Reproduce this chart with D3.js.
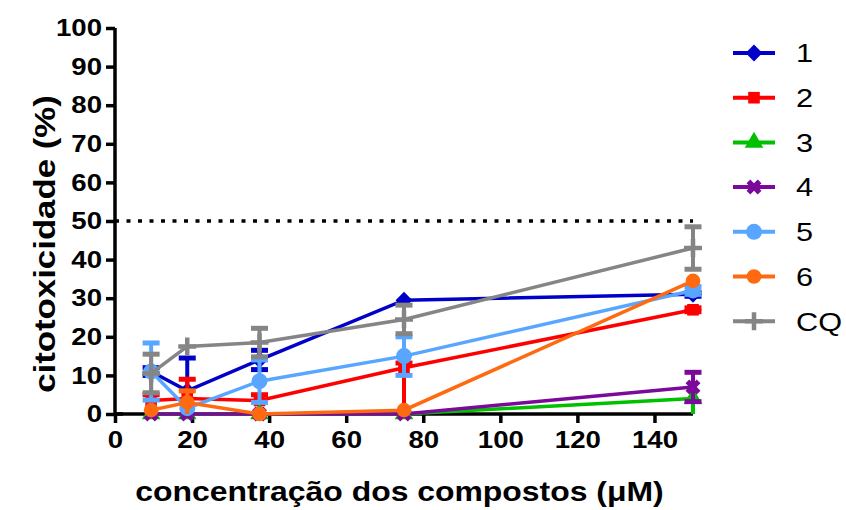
<!DOCTYPE html>
<html>
<head>
<meta charset="utf-8">
<script src="https://cdn.jsdelivr.net/npm/d3@7"></script>
<style>
body{margin:0;background:#fff;}
svg text{font-family:Arial,"Liberation Sans",Helvetica,sans-serif;}
</style>
</head>
<body>
<svg id="myGraph" width="846" height="510"></svg>
<script>
window.addEventListener("load",function(){
var doses = [9.375, 18.75, 37.5, 75, 150];   // concentrações (µM)
var names = ["1","2","3","4","5","6","CQ"];
var colors = ["#0000C8","#FF0000","#00C000","#7B0A9B","#58A6FF","#FF6A10","#858585"];
// valores (%) e barras de erro (acima / abaixo)
var s1 = [11, 6, 14, 29.5, 31],     s1Hi = [1, 8.5, 2.5, 0, 0.5],  s1Lo = [1, 0, 2.5, 0, 0.5];
var s2 = [3.5, 4, 3.5, 12, 27],     s2Hi = [1.5, 5, 1.5, 1.2, 0.5], s2Lo = [3.5, 4, 3.5, 12, 0.5];
var s3 = [0, 0, 0, 0, 4],           s3Hi = [0, 0, 0, 0, 0],        s3Lo = [0, 0, 0, 0, 4];
var s4 = [0, 0, 0, 0, 7],           s4Hi = [0, 0, 0, 0, 3.8],      s4Lo = [0, 0, 0, 0, 3.8];
var s5 = [11, 1.5, 8.5, 15, 32],    s5Hi = [7.4, 0, 5.5, 5, 1],    s5Lo = [7.4, 1.5, 5.5, 5, 1];
var s6 = [1, 3, 0, 1, 34.5],        s6Hi = [0, 3, 0, 0, 0],        s6Lo = [0, 3, 0, 0, 0];
var cq = [10.5, 17.5, 18.5, 24.5, 43], cqHi = [5, 0, 3.7, 3.7, 5.5], cqLo = [5, 0, 3.7, 3.7, 5.5];
var xTicks = [0,20,40,60,80,100,120,140];
var yTicks = [0,10,20,30,40,50,60,70,80,90,100];
var threshold = 50;

var series = [[s1,s1Hi,s1Lo],[s2,s2Hi,s2Lo],[s3,s3Hi,s3Lo],[s4,s4Hi,s4Lo],[s5,s5Hi,s5Lo],[s6,s6Hi,s6Lo],[cq,cqHi,cqLo]];

var svg = d3.select("#myGraph");
var xScale = d3.scaleLinear().domain([0,150]).range([115,693]);
var yScale = d3.scaleLinear().domain([0,100]).range([414,28]);

// o texto do original é mais largo: esticar os glifos na horizontal
function stretch(sel, f){
  sel.each(function(){
    var t = d3.select(this);
    var x = +t.attr("x") || 0, y = +t.attr("y") || 0;
    t.attr("x",null).attr("y",null).attr("transform","translate("+x+","+y+") scale("+f+",1)");
  });
}

// linha pontilhada em 50%
svg.append("line")
  .attr("x1", xScale(0)).attr("x2", xScale(150))
  .attr("y1", yScale(threshold)).attr("y2", yScale(threshold))
  .attr("stroke","#000").attr("stroke-width",3.5).attr("stroke-dasharray","4,7.5");

// eixos
var xAxis = svg.append("g").attr("transform","translate(0,"+yScale(0)+")")
  .call(d3.axisBottom(xScale).tickValues(xTicks).tickSize(9).tickPadding(8));
var yAxis = svg.append("g").attr("transform","translate("+xScale(0)+",0)")
  .call(d3.axisLeft(yScale).tickValues(yTicks).tickSize(9).tickPadding(4));
[xAxis,yAxis].forEach(function(a){
  a.select(".domain").attr("stroke-width",3.5).attr("d", a===xAxis ? "M"+xScale(0)+",0H"+xScale(150) : "M0,"+yScale(0)+"V"+yScale(100));
  a.selectAll(".tick line").attr("stroke-width",3.5);
  a.selectAll(".tick text").attr("font-size",24).attr("font-weight","bold").attr("fill","#000")
    .attr("font-family","Arial, 'Liberation Sans', sans-serif");
  stretch(a.selectAll(".tick text"), 1.15);
});
// o eixo y atravessa o zero
yAxis.append("line").attr("x1",0).attr("x2",8).attr("y1",yScale(0)).attr("y2",yScale(0)).attr("stroke","#000").attr("stroke-width",3.5);

// marcadores
function symbolPath(k){
  if(k===0) return d3.symbol().type(d3.symbolDiamond2 || d3.symbolDiamond).size(180)();
  if(k===1) return d3.symbol().type(d3.symbolSquare).size(135)();
  if(k===2) return d3.symbol().type(d3.symbolTriangle).size(150)();
  if(k===3) return d3.symbol().type(d3.symbolCross).size(140)();
  if(k===4) return d3.symbol().type(d3.symbolCircle).size(200)();
  if(k===5) return d3.symbol().type(d3.symbolCircle).size(170)();
  return "M-9,0H9M0,-9V9";
}
function drawMarker(g, k, x, y){
  var p = g.append("path").attr("d", symbolPath(k)).attr("transform","translate("+x+","+y+")"+(k===3?" rotate(45)":""));
  if(k===6) p.attr("fill","none").attr("stroke",colors[k]).attr("stroke-width",4.5);
  else p.attr("fill",colors[k]);
}

var line = d3.line().x(function(d,i){return xScale(doses[i]);}).y(function(d){return yScale(d);});

series.forEach(function(s,k){
  var g = svg.append("g");
  var vals = s[0], hi = s[1], lo = s[2];
  // barras de erro
  vals.forEach(function(v,i){
    var x = xScale(doses[i]);
    var top = yScale(v+hi[i]), bot = yScale(Math.max(0,v-lo[i]));
    if(hi[i]>0 || lo[i]>0){
      g.append("line").attr("x1",x).attr("x2",x).attr("y1",top).attr("y2",bot)
        .attr("stroke",colors[k]).attr("stroke-width",4);
    }
    if(hi[i]>0) g.append("line").attr("x1",x-8.5).attr("x2",x+8.5).attr("y1",top).attr("y2",top).attr("stroke",colors[k]).attr("stroke-width",5);
    if(lo[i]>0 && v-lo[i]>0.3) g.append("line").attr("x1",x-8.5).attr("x2",x+8.5).attr("y1",bot).attr("y2",bot).attr("stroke",colors[k]).attr("stroke-width",5);
  });
  g.append("path").attr("d", line(vals)).attr("fill","none").attr("stroke",colors[k]).attr("stroke-width",3.5);
  vals.forEach(function(v,i){ drawMarker(g,k,xScale(doses[i]),yScale(v)); });
});

// legenda
var legend = svg.append("g");
names.forEach(function(n,k){
  var y = 53 + k*44.7;
  legend.append("line").attr("x1",733).attr("x2",775).attr("y1",y).attr("y2",y).attr("stroke",colors[k]).attr("stroke-width",4);
  drawMarker(legend,k,754,y);
  var t = legend.append("text").attr("x",796).attr("y",y).attr("dy","0.36em").attr("font-size",26).text(n);
  stretch(t, 1.18);
});

// títulos dos eixos
var xt = svg.append("text").attr("x",(137+662)/2).attr("y",501).attr("text-anchor","middle")
  .attr("font-size",28).attr("font-weight","bold").text("concentração dos compostos (μM)");
stretch(xt, 1.14);
svg.append("text").attr("transform","translate(55,244) rotate(-90) scale(1.2,1)").attr("text-anchor","middle")
  .attr("font-size",29).attr("font-weight","bold").text("citotoxicidade (%)");
});
</script>
</body>
</html>
